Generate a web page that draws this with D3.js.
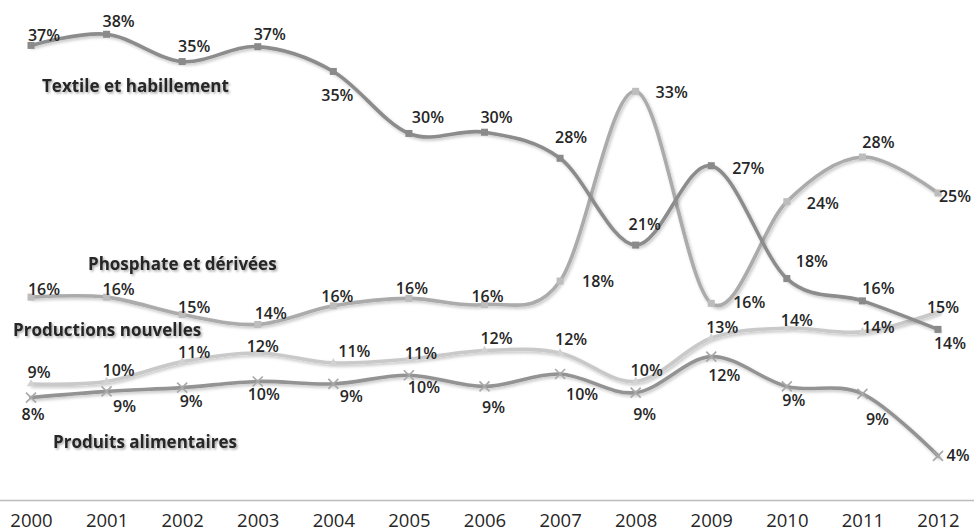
<!DOCTYPE html>
<html>
<head>
<meta charset="utf-8">
<script src="https://d3js.org/d3.v7.min.js"></script>
<style>
  body { margin: 0; background: #fff; }
  svg { display: block; font-family: 'Open Sans', sans-serif; }
  .val { font-size: 16px; font-weight: 600; fill: #262626; }
  .name { font-size: 17px; font-weight: 700; fill: #262626; filter: url(#txtShadow); }
  .axis text { font-size: 18.5px; fill: #262626; font-family: 'Open Sans', sans-serif; }
</style>
</head>
<body>
<div id="chart"></div>
<script>
////////////////////////////////////////////////////////////
///////////////////////// Data /////////////////////////////
////////////////////////////////////////////////////////////
var years = ["2000","2001","2002","2003","2004","2005","2006","2007","2008","2009","2010","2011","2012"];

// share in % (labels are rounded)
var textile      = [36.7, 37.6, 35.4, 36.6, 34.6, 29.6, 29.7, 27.6, 20.6, 27.0, 17.9, 16.1, 13.8];
var phosphate    = [16.4, 16.4, 15.0, 14.2, 15.7, 16.3, 15.8, 17.7, 33.0, 15.9, 24.1, 27.7, 24.8];
var productions  = [9.4, 9.6, 11.2, 11.9, 11.1, 11.4, 12.1, 11.9, 9.6, 13.1, 13.9, 13.6, 15.2];
var alimentaires = [8.3, 8.8, 9.1, 9.6, 9.4, 10.1, 9.2, 10.2, 8.7, 11.6, 9.2, 8.6, 3.6];

var seriesNames = ["Textile et habillement", "Phosphate et dérivées", "Productions nouvelles", "Produits alimentaires"];

////////////////////////////////////////////////////////////
//////////////////////// Set-Up ////////////////////////////
////////////////////////////////////////////////////////////
var width = 974, height = 532;

var x = d3.scalePoint().domain(years).range([31, 938]);
var y = d3.scaleLinear().domain([0, 40]).range([500.5, 4.5]);

// label offsets (dx to label centre, dy to baseline) per point
var labelOffsets = [
  [[13,-4],[12,-7],[12,-10],[12,-7],[4,30],[19,-10],[12,-9],[11,-15],[9,-15],[37,8],[25,-12],[16,-7],[12,20]],
  [[13,-2],[12,-2],[12,-2],[13,-5],[4,-4],[3,-4],[3,-3],[38,6],[36,7],[38,5],[36,7],[16,-9],[17,9]],
  [[8,-6],[12,-5],[12,-4],[5,-1],[21,-6],[12,0],[12,-6],[11,-8],[11,-5],[11,-5],[10,-2],[16,1],[5,1]],
  [[2,22],[18,21],[9,19],[6,19],[18,18],[15,18],[9,27],[22,26],[9,27],[13,24],[7,20],[15,31],[20,5]]
];
var namePos = [[42, 92], [88, 270], [13, 336], [53, 448]];

var series = [
  { name: seriesNames[0], values: textile,      color: "#8c8c8c", marker: "square", mcolor: "#8a8a8a" },
  { name: seriesNames[1], values: phosphate,    color: "#ababab", marker: "square", mcolor: "#bdbdbd" },
  { name: seriesNames[2], values: productions,  color: "#c9c9c9", marker: "triangle", mcolor: "#d2d2d2" },
  { name: seriesNames[3], values: alimentaires, color: "#939393", marker: "cross", mcolor: "#a8a8a8" }
];

var svg = d3.select("#chart").append("svg")
    .attr("width", width)
    .attr("height", height);

var defs = svg.append("defs");
defs.append("filter").attr("id", "lineShadow")
    .attr("x", "-5%").attr("y", "-20%").attr("width", "110%").attr("height", "140%")
  .append("feDropShadow")
    .attr("dx", 1.5).attr("dy", 2).attr("stdDeviation", 1.5)
    .attr("flood-color", "#000").attr("flood-opacity", 0.22);
defs.append("filter").attr("id", "txtShadow")
    .attr("x", "-5%").attr("y", "-30%").attr("width", "110%").attr("height", "160%")
  .append("feDropShadow")
    .attr("dx", 1.5).attr("dy", 1.5).attr("stdDeviation", 1.2)
    .attr("flood-color", "#000").attr("flood-opacity", 0.35);

////////////////////////////////////////////////////////////
//////////////////////// X axis ////////////////////////////
////////////////////////////////////////////////////////////
var axis = svg.append("g")
    .attr("class", "axis")
    .attr("transform", "translate(0," + y(0) + ")")
    .call(d3.axisBottom(x).tickSize(0).tickPadding(0));

axis.select(".domain").remove();
axis.selectAll("text").attr("dy", null).attr("y", 26);

axis.append("line")
    .attr("x1", 0).attr("x2", width)
    .attr("y1", 0).attr("y2", 0)
    .attr("stroke", "#bcbcbc")
    .attr("stroke-width", 1.5);

////////////////////////////////////////////////////////////
///////////////////////// Lines ////////////////////////////
////////////////////////////////////////////////////////////
var line = d3.line()
    .x(function(d, i) { return x(years[i]); })
    .y(function(d) { return y(d); })
    .curve(d3.curveCardinal.tension(0));

var drawOrder = [2, 3, 1, 0];

drawOrder.forEach(function(si) {
  var s = series[si];
  var g = svg.append("g").attr("class", "series");

  g.append("path")
      .datum(s.values)
      .attr("fill", "none")
      .attr("stroke", s.color)
      .attr("stroke-width", 3.6)
      .attr("stroke-linecap", "round")
      .attr("filter", "url(#lineShadow)")
      .attr("d", line);

  var m = g.selectAll("g.marker")
      .data(s.values)
      .enter().append("g")
      .attr("class", "marker")
      .attr("transform", function(d, i) { return "translate(" + x(years[i]) + "," + y(d) + ")"; });

  if (s.marker === "square") {
    m.append("rect")
        .attr("x", -3.5).attr("y", -3.5).attr("width", 7).attr("height", 7)
        .attr("fill", s.mcolor);
  } else if (s.marker === "triangle") {
    m.append("path")
        .attr("d", d3.symbol().type(d3.symbolTriangle).size(30))
        .attr("fill", s.mcolor);
  } else {
    m.append("path")
        .attr("d", "M-5,-5L5,5M-5,5L5,-5")
        .attr("stroke", s.mcolor)
        .attr("stroke-width", 1.6)
        .attr("fill", "none");
  }
});

////////////////////////////////////////////////////////////
//////////////////////// Labels ////////////////////////////
////////////////////////////////////////////////////////////
series.forEach(function(s, si) {
  svg.append("g").selectAll("text")
      .data(s.values)
      .enter().append("text")
      .attr("class", "val")
      .attr("text-anchor", "middle")
      .attr("x", function(d, i) { return x(years[i]) + labelOffsets[si][i][0]; })
      .attr("y", function(d, i) { return y(d) + labelOffsets[si][i][1]; })
      .text(function(d) { return Math.round(d) + "%"; });

  svg.append("text")
      .attr("class", "name")
      .attr("x", namePos[si][0])
      .attr("y", namePos[si][1])
      .text(s.name);
});
</script>
</body>
</html>
